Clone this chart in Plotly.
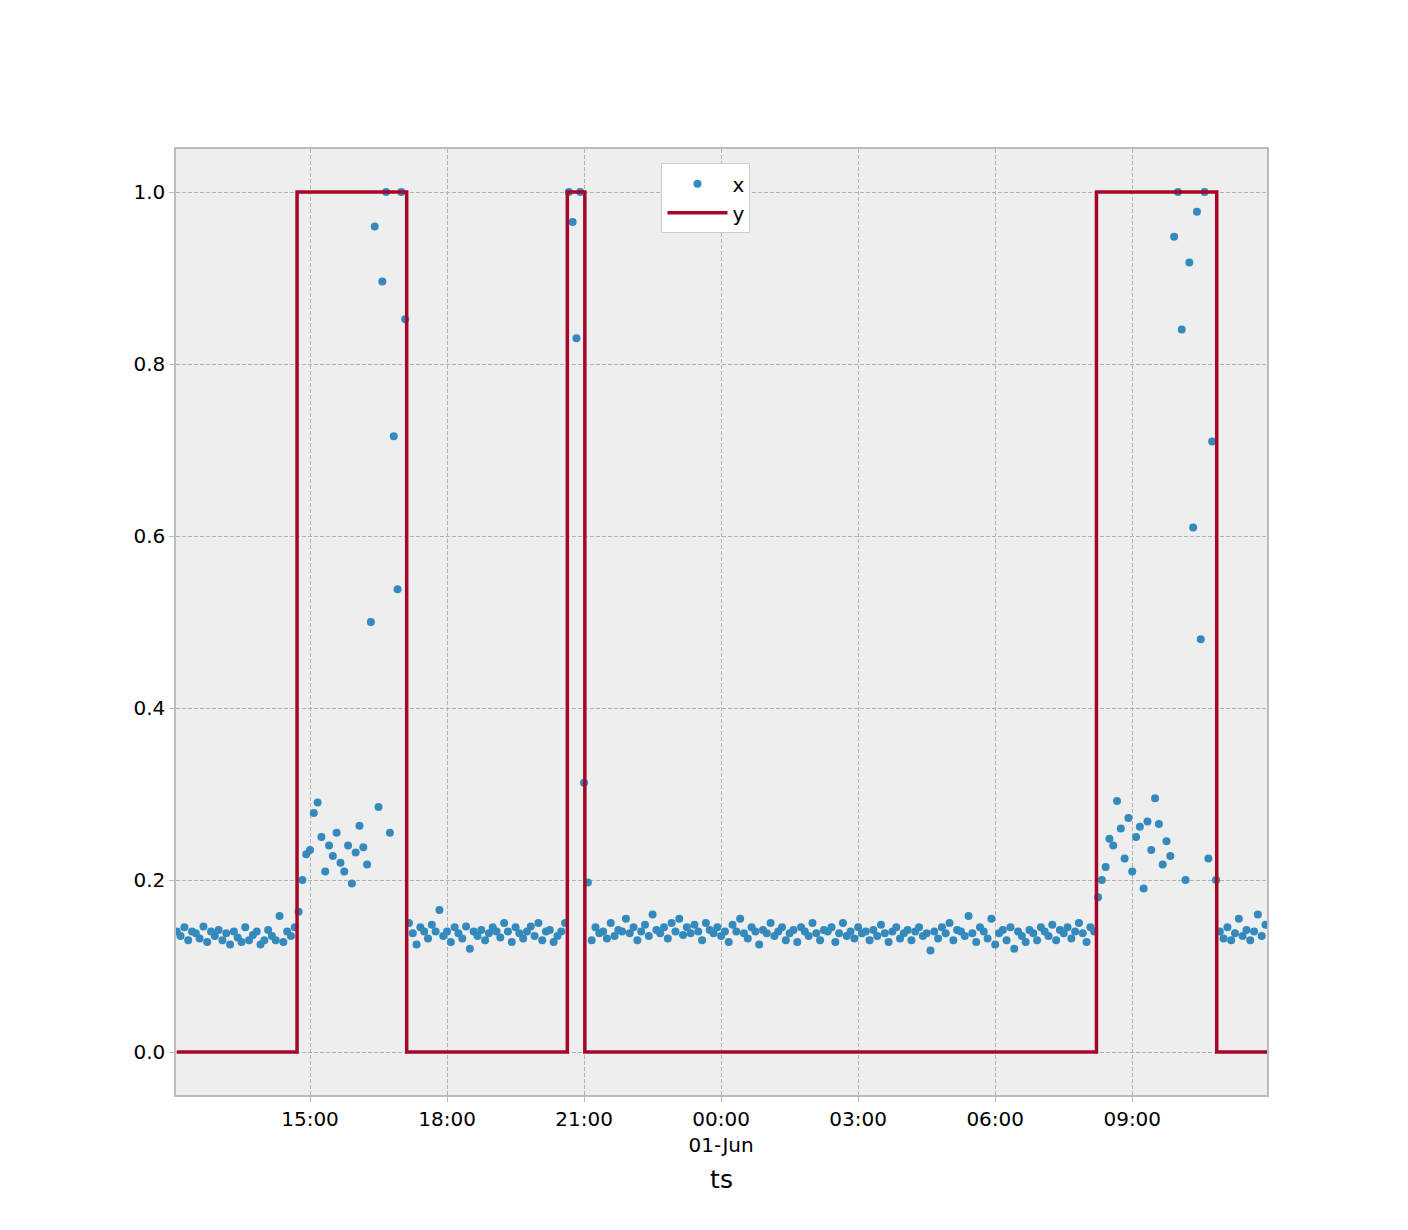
import pandas as pd
import plotly.graph_objs as go

# x readings, 5-minute samples from 2019-05-31 12:05, in segments
x_quiet1 = [0.14, 0.135, 0.145, 0.13, 0.14, 0.138, 0.132, 0.146, 0.128, 0.14,
            0.135, 0.142, 0.13, 0.138, 0.125, 0.14, 0.133, 0.128, 0.145, 0.13,
            0.136, 0.14, 0.125, 0.13, 0.142, 0.135, 0.13, 0.158, 0.128, 0.14,
            0.135, 0.145]
x_on1 = [0.163, 0.2, 0.23, 0.235, 0.278, 0.29, 0.25, 0.21, 0.24, 0.228,
         0.255, 0.22, 0.21, 0.24, 0.196, 0.232, 0.263, 0.238, 0.218, 0.5,
         0.96, 0.285, 0.896, 1.0, 0.255, 0.716, 0.538, 1.0, 0.852]
x_quiet2 = [0.15, 0.138, 0.125, 0.145, 0.14, 0.132, 0.148, 0.14, 0.165, 0.135,
            0.14, 0.128, 0.145, 0.138, 0.132, 0.146, 0.12, 0.14, 0.135, 0.142,
            0.13, 0.138, 0.145, 0.14, 0.133, 0.15, 0.14, 0.128, 0.145, 0.138,
            0.132, 0.14, 0.146, 0.135, 0.15, 0.13, 0.14, 0.142, 0.128, 0.135,
            0.14, 0.15]
x_on2 = [1.0, 0.965, 0.83, 1.0, 0.313]
x_quiet3 = [0.197, 0.13, 0.145, 0.138, 0.14, 0.132, 0.15, 0.135, 0.142, 0.14,
            0.155, 0.138, 0.145, 0.13, 0.14, 0.148, 0.135, 0.16, 0.142, 0.138,
            0.145, 0.132, 0.15, 0.14, 0.155, 0.136, 0.145, 0.138, 0.148, 0.14,
            0.13, 0.15, 0.142, 0.138, 0.145, 0.135, 0.14, 0.128, 0.148, 0.14,
            0.155, 0.138, 0.132, 0.145, 0.14, 0.125, 0.142, 0.138, 0.15, 0.135,
            0.14, 0.145, 0.13, 0.138, 0.142, 0.128, 0.145, 0.14, 0.135, 0.15,
            0.138, 0.13, 0.142, 0.14, 0.145, 0.128, 0.138, 0.15, 0.135, 0.14,
            0.132, 0.145, 0.138, 0.14, 0.13, 0.142, 0.135, 0.148, 0.138, 0.128,
            0.14, 0.145, 0.132, 0.138, 0.142, 0.13, 0.14, 0.145, 0.135, 0.138,
            0.118, 0.14, 0.132, 0.145, 0.138, 0.15, 0.13, 0.142, 0.14, 0.135,
            0.158, 0.138, 0.128, 0.145, 0.14, 0.132, 0.155, 0.125, 0.138, 0.142,
            0.13, 0.145, 0.12, 0.14, 0.135, 0.128, 0.142, 0.138, 0.13, 0.145,
            0.14, 0.135, 0.148, 0.13, 0.142, 0.138, 0.145, 0.132, 0.14, 0.15,
            0.138, 0.128, 0.145, 0.14]
x_on3 = [0.18, 0.2, 0.215, 0.248, 0.24, 0.292, 0.26, 0.225, 0.272, 0.21,
         0.25, 0.262, 0.19, 0.268, 0.235, 0.295, 0.265, 0.218, 0.245, 0.228,
         0.948, 1.0, 0.84, 0.2, 0.918, 0.61, 0.977, 0.48, 1.0, 0.225,
         0.71, 0.2]
x_quiet4 = [0.14, 0.132, 0.145, 0.13, 0.138, 0.155, 0.135, 0.142, 0.13, 0.14,
            0.16, 0.135, 0.148]
x_values = x_quiet1 + x_on1 + x_quiet2 + x_on2 + x_quiet3 + x_on3 + x_quiet4

# y step changes
y_times = ['2019-05-31 12:05', '2019-05-31 14:43', '2019-05-31 17:07',
           '2019-05-31 20:38', '2019-05-31 21:01', '2019-06-01 08:13',
           '2019-06-01 10:51', '2019-06-01 11:57']
y_levels = [0, 1, 0, 1, 0, 1, 0, 0]

tick_vals = ['2019-05-31 15:00', '2019-05-31 18:00', '2019-05-31 21:00',
             '2019-06-01 00:00', '2019-06-01 03:00', '2019-06-01 06:00',
             '2019-06-01 09:00']
tick_text = ['15:00', '18:00', '21:00', '00:00<br>01-Jun', '03:00', '06:00', '09:00']

ts = pd.date_range('2019-05-31 12:05', periods=len(x_values), freq='5min')

fig = go.Figure()
fig.add_trace(go.Scatter(x=ts, y=x_values, mode='markers', name='x',
                         marker=dict(color='#348ABD', size=8)))
fig.add_trace(go.Scatter(x=pd.to_datetime(y_times), y=y_levels, mode='lines', name='y',
                         line=dict(color='#A60628', width=3.5, shape='hv')))

axis = dict(showgrid=True, gridcolor='#b2b2b2', griddash='4px,2px', gridwidth=0.8,
            showline=True, linecolor='#bcbcbc', mirror=True, linewidth=1.5,
            zeroline=False, ticks='outside', tickcolor='#bcbcbc',
            tickfont=dict(size=20, color='black'))
fig.update_layout(
    width=1408, height=1230,
    margin=dict(l=168, r=149, t=141, b=143),
    paper_bgcolor='white', plot_bgcolor='#eeeeee',
    font=dict(family='DejaVu Sans', color='black'),
    showlegend=True,
    legend=dict(x=0.445, y=0.985, xanchor='left', yanchor='top', bgcolor='white',
                bordercolor='#cccccc', borderwidth=1, font=dict(size=20),
                itemwidth=60, tracegroupgap=8),
    xaxis=dict(axis, range=['2019-05-31 12:04', '2019-06-01 11:57'],
               tickvals=tick_vals, ticktext=tick_text,
               title=dict(text='ts', font=dict(size=25))),
    yaxis=dict(axis, range=[-0.05, 1.05], tickvals=[0, 0.2, 0.4, 0.6, 0.8, 1.0],
               tickformat='.1f'),
)

fig.write_html("out.html")
